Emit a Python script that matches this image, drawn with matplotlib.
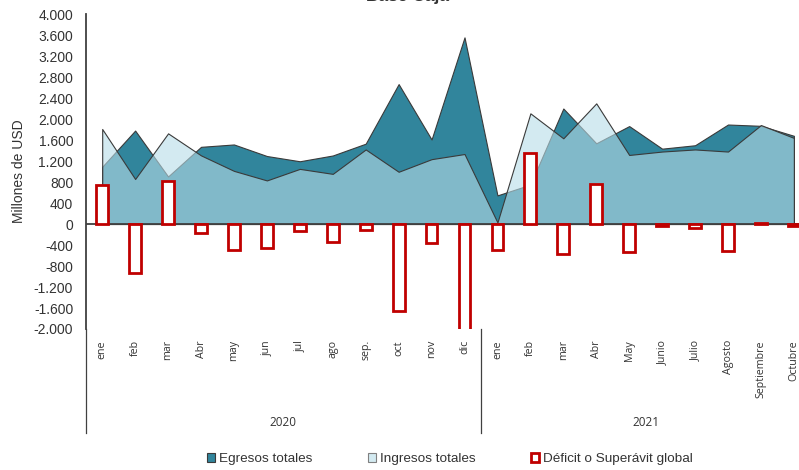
import matplotlib
matplotlib.use("Agg")
import matplotlib.pyplot as plt
from matplotlib.patches import Patch
from matplotlib.ticker import FuncFormatter
import matplotlib.transforms as mtransforms

plt.rcParams['font.family'] = ['Liberation Sans', 'DejaVu Sans']

months = ["ene", "feb", "mar", "Abr", "may", "jun", "jul", "ago", "sep.", "oct", "nov", "dic",
          "ene", "feb", "mar", "Abr", "May", "Junio", "Julio", "Agosto", "Septiembre", "Octubre"]
years = ["2020", "2021"]
year_sizes = [12, 10]

egresos = [1090, 1780, 905, 1470, 1515, 1295, 1195, 1305, 1530, 2665, 1610, 3555,
           545, 750, 2200, 1537, 1865, 1435, 1500, 1895, 1870, 1680]
ingresos = [1810, 857, 1727, 1307, 1012, 830, 1050, 955, 1420, 995, 1235, 1333,
            30, 2108, 1632, 2298, 1315, 1380, 1420, 1380, 1885, 1640]
deficit = [735, -935, 815, -165, -500, -460, -140, -345, -105, -1665, -362, -2225,
           -500, 1355, -566, 762, -540, -45, -75, -505, 25, -45]

dark = '#31859C'
light = (183/255, 221/255, 232/255, 0.6)
red = '#C00000'
edge = '#3a3a3a'

fig = plt.figure(figsize=(7.99, 4.70), dpi=100)
ax = fig.add_axes([0.1073, 0.3, 0.9069, 0.6702])

x = list(range(len(months)))
ax.fill_between(x, 0, egresos, facecolor=dark, edgecolor=edge, linewidth=0.8, zorder=1)
ax.fill_between(x, 0, ingresos, facecolor=light, edgecolor=edge, linewidth=0.8, zorder=2)
ax.axhline(0, color='#404040', linewidth=1.3, zorder=3)
ax.bar(x, deficit, width=0.36, facecolor='white', edgecolor=red, linewidth=2.0, zorder=4)

ax.set_xlim(-0.5, 21.5)
ax.set_ylim(-2000, 4000)
ax.set_yticks(range(-2000, 4001, 400))
ax.yaxis.set_major_formatter(FuncFormatter(lambda v, p: f"{int(v):,}".replace(",", ".")))
ax.tick_params(axis='y', length=0, pad=9, labelsize=10, labelcolor='#333333')

ax.set_xticks(x)
ax.set_xticklabels(months, rotation=90, va='top', ha='center', family=['Open Sans', 'DejaVu Sans'],
                   fontsize=7.7, color='#333333')
ax.tick_params(axis='x', length=0, pad=8)

for s in ['top', 'right', 'bottom']:
    ax.spines[s].set_visible(False)
ax.spines['left'].set_color('#404040')
ax.spines['left'].set_linewidth(1.3)

# group separators and year labels under the month labels
trans = mtransforms.blended_transform_factory(ax.transData, ax.transAxes)
start = -0.5
for yr, n in zip(years, year_sizes):
    ax.plot([start, start], [0, -0.33], transform=trans, color='#404040', linewidth=0.9, clip_on=False)
    ax.text(start + n / 2, -0.298, yr, transform=trans, ha='center', va='center',
            family=['Open Sans', 'DejaVu Sans'], fontsize=8.5, color='#333333')
    start += n
ax.plot([start, start], [0, -0.33], transform=trans, color='#404040', linewidth=0.9, clip_on=False)

fig.text(19/799, 1 - 171/470, 'Millones de USD', rotation=90, ha='center', va='center',
         fontsize=10, color='#333333')
fig.text(408/799, 1 - 1.5/470, 'Base Caja', ha='center', va='baseline', fontsize=12.5,
         fontweight='bold', color='#333333')

handles = [Patch(facecolor=dark, edgecolor=edge, linewidth=0.8, label='Egresos totales'),
           Patch(facecolor=light, edgecolor='#808080', linewidth=0.8, label='Ingresos totales'),
           Patch(facecolor='white', edgecolor=red, linewidth=2.0, label='Déficit o Superávit global')]
fig.legend(handles=handles, loc='center', bbox_to_anchor=(450/799, 1 - 459/470), ncol=3,
           frameon=False, fontsize=9.7, handlelength=0.6, handleheight=0.6, handletextpad=0.3,
           columnspacing=4.1, labelcolor='#333333')

fig.savefig('out.png', dpi=100)
